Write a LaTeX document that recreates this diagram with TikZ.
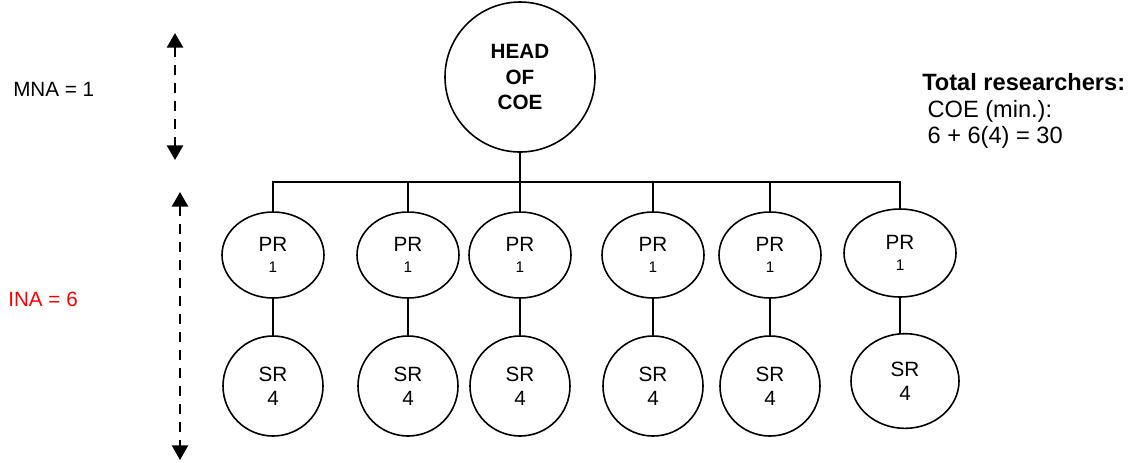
\documentclass[tikz,border=0pt]{standalone}
\usepackage{fontspec}
\setmainfont{Liberation Sans}
\usepackage{tikz}
\usetikzlibrary{arrows.meta,shapes.geometric}

\begin{document}
\begin{tikzpicture}[x=0.75pt,y=-0.75pt]
	\useasboundingbox (0,0) rectangle (1144,462);
	\begin{scope}[every node/.style = {draw, line width=1.2pt, inner sep=0pt, align=center,
			font = \fontsize{15.5}{16}\selectfont},
		pr/.style = {ellipse, minimum width=76.5pt, minimum height=64.5pt},
		sr/.style = {circle, minimum size=75pt, font = \fontsize{15.5}{18}\selectfont}]
		\node [circle, minimum size=112.5pt, font = \bfseries\fontsize{15.5}{19}\selectfont] (HEAD) at (520,77) {HEAD\\OF\\COE};
		\node [pr] (PR1) at (273,255) {PR\\{\fontsize{11.5}{11}\selectfont 1}};
		\node [pr] (PR2) at (408,255) {PR\\{\fontsize{11.5}{11}\selectfont 1}};
		\node [pr] (PR3) at (520,255) {PR\\{\fontsize{11.5}{11}\selectfont 1}};
		\node [pr] (PR4) at (653,255) {PR\\{\fontsize{11.5}{11}\selectfont 1}};
		\node [pr] (PR5) at (770,255) {PR\\{\fontsize{11.5}{11}\selectfont 1}};
		\node [pr, minimum width=84pt, minimum height=66pt] (PR6) at (900,253) {PR\\{\fontsize{11.5}{11}\selectfont 1}};
		\node [sr] (SR1) at (273,386) {SR\\4};
		\node [sr] (SR2) at (408,386) {SR\\4};
		\node [sr] (SR3) at (520,386) {SR\\4};
		\node [sr] (SR4) at (653,386) {SR\\4};
		\node [sr] (SR5) at (770,386) {SR\\4};
		\node [ellipse, minimum width=81pt, minimum height=71pt, font = \fontsize{15.5}{18}\selectfont] (SR6) at (905,381) {SR\\4};
	\end{scope}
	\begin{scope}[every node/.style = {font = \fontsize{15.5}{18}\selectfont, inner sep=0pt}]
		\node [anchor=west] (MNA) at (13,89) {MNA = 1};
		\node [anchor=west, text=red] (INA) at (8,299) {INA = 6};
		\node [anchor=west, align=left, font = \fontsize{17.7}{20}\selectfont] (TOTAL) at (922,111)
			{\textbf{Total researchers:}\\\hspace*{4pt}COE (min.):\\\hspace*{4pt}6 + 6(4) = 30};
	\end{scope}
	\coordinate (bus) at (520,182);
	\coordinate (MNAtop) at (175,33);
	\coordinate (MNAbot) at (175,160);
	\coordinate (INAtop) at (180,192);
	\coordinate (INAbot) at (180,460);
	\begin{scope}[every edge/.style={draw=black, line width=1.2pt}]
		\path [-] (HEAD) edge (bus);
		\path [-] (bus) edge (PR3);
		\draw [line width=1.2pt] (PR1.north) |- (bus) -| (PR6.north);
		\path [-] (PR2.north |- bus) edge (PR2);
		\path [-] (PR4.north |- bus) edge (PR4);
		\path [-] (PR5.north |- bus) edge (PR5);
		\path [-] (PR1) edge (SR1);
		\path [-] (PR2) edge (SR2);
		\path [-] (PR3) edge (SR3);
		\path [-] (PR4) edge (SR4);
		\path [-] (PR5) edge (SR5);
		\path [-] (PR6.south) edge (PR6.south |- SR6.north);
	\end{scope}
	\begin{scope}[>={Triangle[length=11pt, width=12pt]},
			every edge/.style={draw=black, line width=2pt, dash pattern=on 7.5pt off 6pt}]
		\path [<->] (MNAtop) edge (MNAbot);
		\path [<->] (INAtop) edge (INAbot);
	\end{scope}
\end{tikzpicture}
\end{document}
